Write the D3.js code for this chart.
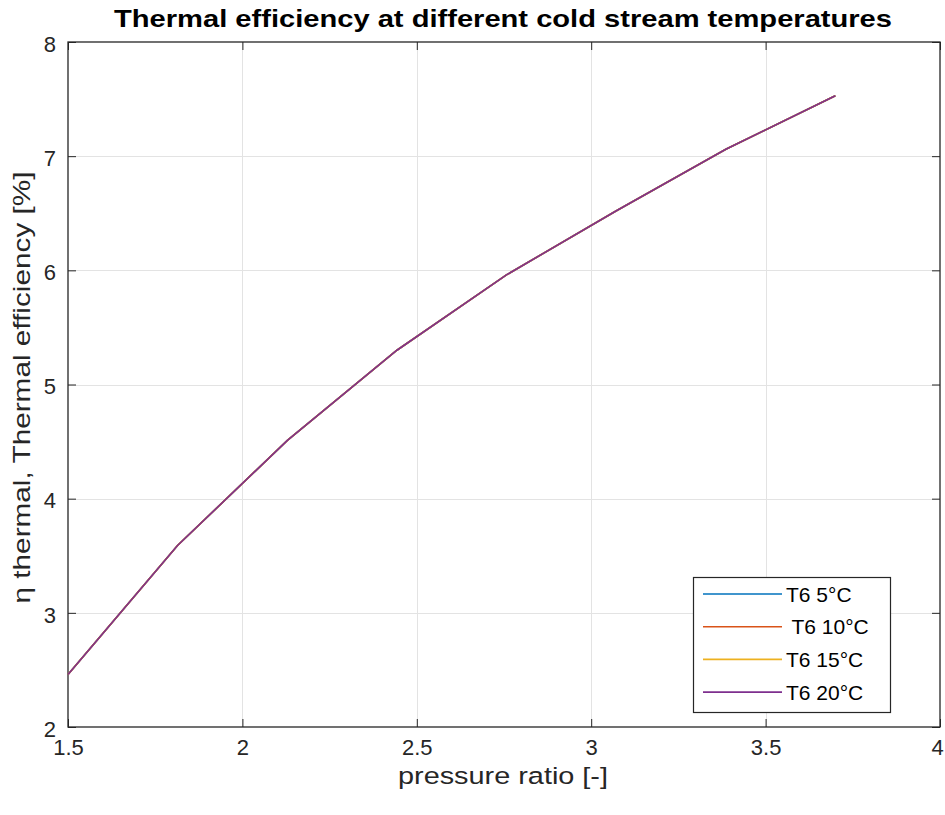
<!DOCTYPE html>
<html>
<head>
<meta charset="utf-8">
<script src="https://cdn.jsdelivr.net/npm/d3@7"></script>
<style>
  html, body { margin: 0; padding: 0; background: #fff; }
  svg { display: block; font-family: "Liberation Sans", Arial, sans-serif; }
</style>
</head>
<body>
<svg id="chart" width="945" height="815"></svg>
<script>
// Pressure ratio samples and thermal efficiency [%] for each cold stream temperature
const pressureRatio = [1.5, 1.814, 2.129, 2.443, 2.757, 3.071, 3.386, 3.7];
const etaT6_5  = [2.46, 3.59, 4.51, 5.30, 5.96, 6.52, 7.06, 7.53];
const etaT6_10 = [2.46, 3.59, 4.51, 5.30, 5.96, 6.52, 7.06, 7.53];
const etaT6_15 = [2.46, 3.59, 4.51, 5.30, 5.96, 6.52, 7.06, 7.53];
const etaT6_20 = [2.46, 3.59, 4.51, 5.30, 5.96, 6.52, 7.06, 7.53];
const seriesNames = ["T6 5°C", " T6 10°C", "T6 15°C", "T6 20°C"];
const seriesColors = ["#0072BD", "#D95319", "#EDB120", "#7E2F8E"];
const xTicks = [1.5, 2, 2.5, 3, 3.5, 4];
const yTicks = [2, 3, 4, 5, 6, 7, 8];

const series = [etaT6_5, etaT6_10, etaT6_15, etaT6_20].map((vals, i) => ({
  name: seriesNames[i],
  color: seriesColors[i],
  points: vals.map((v, j) => [pressureRatio[j], v])
}));

// fit a label to a given width
function fitWidth(sel, width) {
  sel.attr("textLength", width).attr("lengthAdjust", "spacingAndGlyphs");
}

const svg = d3.select("#chart");
const margin = { left: 68, right: 5, top: 42, bottom: 88 };
const W = 945, H = 815;
const x = d3.scaleLinear().domain([1.5, 4]).range([margin.left, W - margin.right]);
const y = d3.scaleLinear().domain([2, 8]).range([H - margin.bottom, margin.top]);

// grid
const grid = svg.append("g").attr("stroke", "#e3e3e3").attr("stroke-width", 1);
grid.selectAll("line.vx").data(xTicks.slice(1, -1)).join("line")
  .attr("x1", d => Math.round(x(d)) + 0.5).attr("x2", d => Math.round(x(d)) + 0.5)
  .attr("y1", y(2)).attr("y2", y(8));
grid.selectAll("line.hy").data(yTicks.slice(1, -1)).join("line")
  .attr("y1", d => Math.round(y(d)) + 0.5).attr("y2", d => Math.round(y(d)) + 0.5)
  .attr("x1", x(1.5)).attr("x2", x(4));

// axes with inward ticks
const tickStyle = g => {
  g.select(".domain").remove();
  g.selectAll(".tick line").attr("stroke", "#262626");
  g.selectAll(".tick text").attr("fill", "#262626").attr("font-size", 22);
};
svg.append("g").attr("transform", `translate(0,${y(2)})`)
  .call(d3.axisBottom(x).tickValues(xTicks).tickFormat(d3.format("")).tickSizeInner(-8).tickPadding(12))
  .call(tickStyle)
  // keep the last label inside the page edge
  .call(g => g.selectAll(".tick text").filter(d => d === 4).attr("dx", -3));
svg.append("g").attr("transform", `translate(0,${y(8)})`)
  .call(d3.axisTop(x).tickValues(xTicks).tickFormat("").tickSizeInner(-8))
  .call(tickStyle);
svg.append("g").attr("transform", `translate(${x(1.5)},0)`)
  .call(d3.axisLeft(y).tickValues(yTicks).tickFormat(d3.format("d")).tickSizeInner(-8).tickPadding(12))
  .call(tickStyle)
  .call(g => g.selectAll(".tick text").attr("dy", "0.42em"));
svg.append("g").attr("transform", `translate(${x(4)},0)`)
  .call(d3.axisRight(y).tickValues(yTicks).tickFormat("").tickSizeInner(-8))
  .call(tickStyle);

// box
svg.append("rect")
  .attr("x", x(1.5)).attr("y", y(8))
  .attr("width", x(4) - x(1.5)).attr("height", y(2) - y(8))
  .attr("fill", "none").attr("stroke", "#262626").attr("stroke-width", 1.3);

// series lines
const line = d3.line().x(d => x(d[0])).y(d => y(d[1]));
svg.append("g").selectAll("path").data(series).join("path")
  .attr("d", d => line(d.points))
  .attr("fill", "none")
  .attr("stroke", d => d.color)
  .attr("stroke-width", 1.6);

// title and axis labels
svg.append("text").attr("x", 503).attr("y", 27)
  .attr("text-anchor", "middle").attr("font-weight", "bold").attr("font-size", 24)
  .attr("fill", "#000").text("Thermal efficiency at different cold stream temperatures")
  .call(fitWidth, 778);
svg.append("text").attr("x", 503).attr("y", 784)
  .attr("text-anchor", "middle").attr("font-size", 24.5).attr("fill", "#262626")
  .text("pressure ratio [-]")
  .call(fitWidth, 210);
svg.append("text")
  .attr("transform", `translate(30,${(y(2) + y(8)) / 2 + 3}) rotate(-90)`)
  .attr("text-anchor", "middle").attr("font-size", 24.5).attr("fill", "#262626")
  .text("η thermal, Thermal efficiency [%]")
  .call(fitWidth, 432);

// legend
const lg = svg.append("g");
const lgX = 693, lgY = 577, lgW = 197, lgH = 135;
lg.append("rect").attr("x", lgX + 0.5).attr("y", lgY + 0.5).attr("width", lgW).attr("height", lgH)
  .attr("fill", "#fff").attr("stroke", "#262626").attr("stroke-width", 1.2);
const rows = lg.selectAll("g.row").data(series).join("g")
  .attr("transform", (d, i) => `translate(0,${lgY + 17 + i * 32.7})`);
rows.append("line").attr("x1", lgX + 10).attr("x2", lgX + 89)
  .attr("stroke", d => d.color).attr("stroke-width", 1.6);
rows.append("text").attr("x", lgX + 93).attr("y", 7.5)
  .attr("font-size", 21).attr("fill", "#000").attr("xml:space", "preserve")
  .style("white-space", "pre").text(d => d.name);
</script>
</body>
</html>
